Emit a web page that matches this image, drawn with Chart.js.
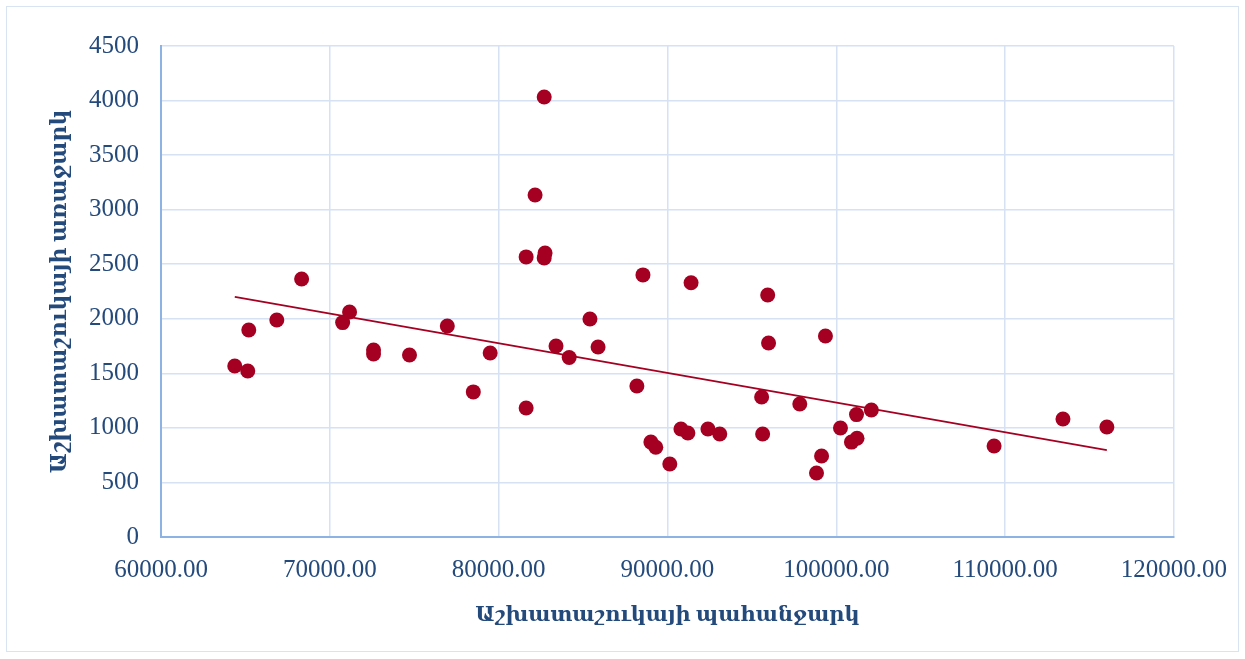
<!DOCTYPE html>
<html lang="hy">
<head>
    <meta charset="UTF-8">
    <title>Աշխատաշուկայի առաջարկ և պահանջարկ</title>
    <script src="https://cdn.jsdelivr.net/npm/chart.js"></script>
    <style>
        body { margin: 0; background: #fff; }
        #wrap { position: relative; width: 1245px; height: 659px; }
        #frame { position: absolute; left: 6px; top: 6px; width: 1231px; height: 644px; border: 1.5px solid #d9e4f2; }
        canvas { position: absolute; left: 0; top: 0; }
    </style>
</head>
<body>
    <div id="wrap">
        <div id="frame"></div>
        <canvas id="grafik" width="1245" height="659"></canvas>
    </div>

    <script>
        // պահանջարկ (x) և առաջարկ (y)
        const pahanjark = [64370, 65140, 65200, 66860, 68330, 70760, 71170, 72590, 72590, 74720,
            76960, 78500, 79500, 81630, 81630, 82160, 82700, 82700, 82750, 83400,
            84180, 85410, 85890, 88190, 88550, 89020, 89310, 90140, 90800, 91210,
            91400, 92400, 93100, 95580, 95640, 95940, 95990, 97840, 98830, 99130,
            99360, 100250, 100900, 101230, 101200, 102080, 109350, 113430, 116030];
        const arajark = [1567, 1521, 1897, 1989, 2365, 1965, 2062, 1714, 1677, 1668,
            1934, 1330, 1687, 2567, 1182, 3135, 4033, 2558, 2603, 1751,
            1645, 1998, 1742, 1384, 2402, 870, 822, 669, 990, 953,
            2330, 990, 944, 1283, 944, 2218, 1778, 1219, 587, 742,
            1842, 999, 870, 905, 1122, 1164, 834, 1082, 1008];

        // գծային միտման գիծ
        const trendX = [64370, 116030];
        const trendY = [2200, 797];

        const xTitle = 'Աշխատաշուկայի պահանջարկ';
        const yTitle = 'Աշխատաշուկայի առաջարկ';

        const kapuyt = '#244a7c';
        const karmir = '#a50021';
        const tarr = '"Liberation Serif", "DejaVu Serif", serif';

        const ketker = pahanjark.map((x, i) => ({ x: x, y: arajark[i] }));
        const trend = trendX.map((x, i) => ({ x: x, y: trendY[i] }));

        new Chart(document.getElementById('grafik'), {
            type: 'scatter',
            data: {
                datasets: [{
                    label: 'Առաջարկ',
                    data: ketker,
                    backgroundColor: karmir,
                    borderWidth: 0,
                    pointRadius: 7.5,
                    pointHoverRadius: 7.5
                }, {
                    type: 'line',
                    label: 'Միտում',
                    data: trend,
                    borderColor: karmir,
                    borderWidth: 1.8,
                    pointRadius: 0,
                    fill: false
                }]
            },
            options: {
                responsive: false,
                animation: false,
                layout: { padding: { left: 20, top: 46, right: 70, bottom: 20 } },
                plugins: {
                    legend: { display: false },
                    tooltip: { enabled: false }
                },
                scales: {
                    x: {
                        type: 'linear',
                        min: 60000,
                        max: 120000,
                        afterFit: s => { s.height = 659 - 537 - 20; },
                        ticks: {
                            stepSize: 10000,
                            padding: 18,
                            color: kapuyt,
                            font: { family: tarr, size: 25 },
                            maxRotation: 0,
                            callback: v => v.toFixed(2)
                        },
                        grid: { color: '#d6e2f3', lineWidth: 1.5, drawTicks: false },
                        border: { color: '#8db3e2', width: 2 },
                        title: {
                            display: true,
                            text: xTitle,
                            color: kapuyt,
                            font: { family: tarr, size: 21, weight: 'bold' },
                            padding: { top: 0, bottom: 11 }
                        }
                    },
                    y: {
                        min: 0,
                        max: 4500,
                        afterFit: s => { s.width = 161 - 20; },
                        ticks: {
                            stepSize: 500,
                            padding: 22,
                            color: kapuyt,
                            font: { family: tarr, size: 25 },
                            callback: v => String(v)
                        },
                        grid: { color: '#d6e2f3', lineWidth: 1.5, drawTicks: false },
                        border: { color: '#8db3e2', width: 2 },
                        title: {
                            display: true,
                            text: yTitle,
                            color: kapuyt,
                            font: { family: tarr, size: 22, weight: 'bold' },
                            padding: { top: 27, bottom: 0 }
                        }
                    }
                }
            }
        });
    </script>
</body>
</html>
